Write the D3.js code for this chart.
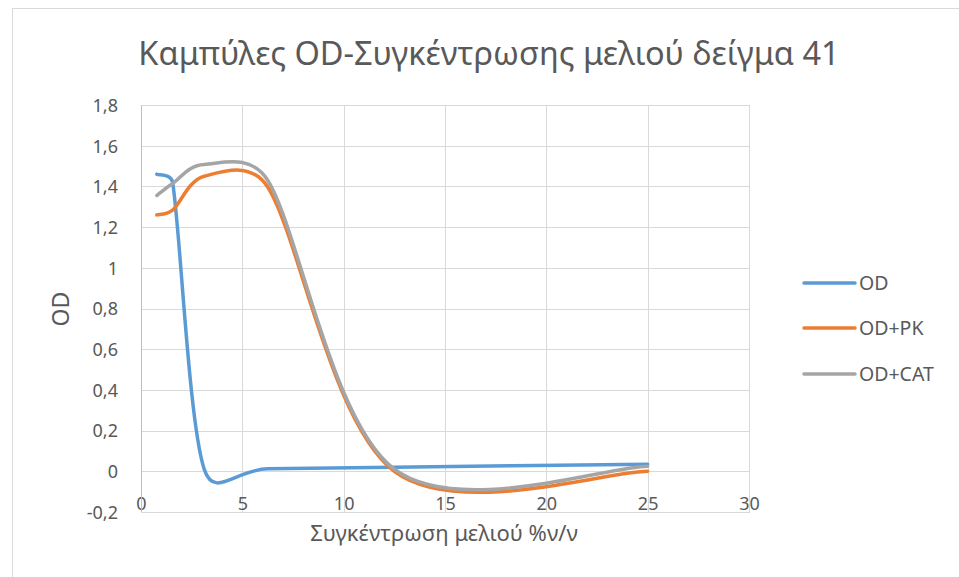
<!DOCTYPE html>
<html>
<head>
<meta charset="utf-8">
<script src="https://cdn.jsdelivr.net/npm/d3@7/dist/d3.min.js"></script>
<style>
  html, body { margin: 0; padding: 0; background: #fff; }
  svg { display: block; }
  text { font-family: "Noto Sans", "Open Sans", sans-serif; fill: #595959; }
</style>
</head>
<body>
<svg id="chart" width="959" height="577"></svg>
<script>
// Honey concentration (% v/v) of each dilution
const concentrations = [0.78, 1.56, 3.125, 6.25, 12.5, 25];
// Measured OD for each series
const seriesOD    = [1.46, 1.42, 0.008, 0.012, 0.02, 0.035];
const seriesODPK  = [1.26, 1.283, 1.45, 1.397, 0.0, 0.0];
const seriesODCAT = [1.355, 1.414, 1.508, 1.43, 0.01, 0.025];

const seriesNames  = ["OD", "OD+PK", "OD+CAT"];
const seriesColors = ["#5b9bd5", "#ed7d31", "#a5a5a5"];
const xTicks = [0, 5, 10, 15, 20, 25, 30];
const yTicks = [-0.2, 0, 0.2, 0.4, 0.6, 0.8, 1, 1.2, 1.4, 1.6, 1.8];

const titleText = "Καμπύλες OD-Συγκέντρωσης μελιού δείγμα 41";
const xTitle = "Συγκέντρωση μελιού %ν/ν";
const yTitle = "OD";

const W = 959, H = 577;
const plot = { left: 141, right: 749, top: 105, bottom: 512 };

const svg = d3.select("#chart");

// Smoothed line: cubic Bézier segments whose handles follow the neighbouring
// points, with handle length capped at half the segment length.
function SmoothCurve(context) { this._context = context; }
SmoothCurve.prototype = {
  areaStart() {}, areaEnd() {},
  lineStart() { this._pts = []; },
  point(x, y) { this._pts.push([+x, +y]); },
  lineEnd() {
    const p = this._pts, c = this._context, n = p.length;
    if (!n) return;
    const dist = (a, b) => Math.hypot(b[0] - a[0], b[1] - a[1]);
    c.moveTo(p[0][0], p[0][1]);
    for (let i = 0; i < n - 1; i++) {
      const p0 = p[Math.max(i - 1, 0)], p1 = p[i], p2 = p[i + 1], p3 = p[Math.min(i + 2, n - 1)];
      const d12 = dist(p1, p2), d02 = dist(p0, p2), d13 = dist(p1, p3);
      const f1 = (d02 === 0 || d02 / 6 < d12 / 2) ? 1 / 6 : d12 / (2 * d02);
      const f2 = (d13 === 0 || d13 / 6 < d12 / 2) ? 1 / 6 : d12 / (2 * d13);
      c.bezierCurveTo(
        p1[0] + (p2[0] - p0[0]) * f1, p1[1] + (p2[1] - p0[1]) * f1,
        p2[0] - (p3[0] - p1[0]) * f2, p2[1] - (p3[1] - p1[1]) * f2,
        p2[0], p2[1]);
    }
  }
};
const smoothCurve = ctx => new SmoothCurve(ctx);

// Outer chart frame
svg.append("rect")
  .attr("x", 12.5).attr("y", 8.5)
  .attr("width", W).attr("height", H)
  .attr("fill", "#fff").attr("stroke", "#d9d9d9").attr("stroke-width", 1);

const x = d3.scaleLinear().domain([0, 30]).range([plot.left, plot.right]);
const y = d3.scaleLinear().domain([-0.2, 1.8]).range([plot.bottom, plot.top]);

// Decimal comma and a plain hyphen for negatives
const fmt = v => String(+v.toFixed(1)).replace(".", ",");

// Gridlines
const grid = svg.append("g").attr("stroke", "#d9d9d9").attr("stroke-width", 1);
grid.selectAll("line.h").data(yTicks).join("line")
  .attr("class", "h")
  .attr("x1", plot.left).attr("x2", plot.right)
  .attr("y1", d => Math.round(y(d)) + 0.5).attr("y2", d => Math.round(y(d)) + 0.5);
grid.selectAll("line.v").data(xTicks.filter(d => d > 0)).join("line")
  .attr("class", "v")
  .attr("x1", d => Math.round(x(d)) + 0.5).attr("x2", d => Math.round(x(d)) + 0.5)
  .attr("y1", plot.top).attr("y2", plot.bottom);

// Y axis labels
const yAxis = d3.axisLeft(y).tickValues(yTicks).tickFormat(fmt).tickSize(0).tickPadding(23);
const gy = svg.append("g").attr("transform", `translate(${plot.left},0)`).call(yAxis);
gy.select(".domain").remove();
gy.selectAll("text").style("font-size", "18px").attr("fill", "#595959")
  .attr("font-family", null).attr("dy", "0.35em");

// X axis labels (sitting on the bottom edge of the plot)
const xAxis = d3.axisBottom(x).tickValues(xTicks).tickFormat(d3.format("d")).tickSize(0).tickPadding(0);
const gx = svg.append("g").attr("transform", `translate(0,${plot.bottom - 16})`).call(xAxis);
gx.select(".domain").remove();
gx.selectAll("text").style("font-size", "18px").attr("fill", "#595959")
  .attr("font-family", null).attr("dy", "0.35em").attr("y", 8);

// Axis lines
svg.append("line")
  .attr("x1", plot.left + 0.5).attr("x2", plot.left + 0.5)
  .attr("y1", plot.top).attr("y2", plot.bottom + 0.5)
  .attr("stroke", "#bfbfbf").attr("stroke-width", 1);
svg.append("line")
  .attr("x1", plot.left).attr("x2", plot.right + 1)
  .attr("y1", plot.bottom + 0.5).attr("y2", plot.bottom + 0.5)
  .attr("stroke", "#d9d9d9").attr("stroke-width", 1);

// Series lines
const allSeries = [seriesOD, seriesODPK, seriesODCAT];
const line = d3.line()
  .x((d, i) => x(concentrations[i]))
  .y(d => y(d))
  .curve(smoothCurve);

svg.append("g").selectAll("path").data(allSeries).join("path")
  .attr("d", d => line(d))
  .attr("fill", "none")
  .attr("stroke", (d, i) => seriesColors[i])
  .attr("stroke-width", 3.5)
  .attr("stroke-linecap", "round")
  .attr("stroke-linejoin", "round");

// Title
svg.append("text")
  .attr("x", 489).attr("y", 65)
  .attr("text-anchor", "middle")
  .style("font-size", "32.5px")
  .text(titleText);

// Axis titles
svg.append("text")
  .attr("x", 444).attr("y", 541)
  .attr("text-anchor", "middle")
  .style("font-size", "22px")
  .text(xTitle);

svg.append("text")
  .attr("transform", "translate(69,309) rotate(-90)")
  .attr("text-anchor", "middle")
  .style("font-size", "23px")
  .text(yTitle);

// Legend
const legendY = [283, 328, 374];
const legend = svg.append("g").selectAll("g").data(seriesNames).join("g")
  .attr("transform", (d, i) => `translate(0,${legendY[i]})`);
legend.append("line")
  .attr("x1", 804).attr("x2", 855).attr("y1", 0).attr("y2", 0)
  .attr("stroke", (d, i) => seriesColors[i])
  .attr("stroke-width", 3.5).attr("stroke-linecap", "round");
legend.append("text")
  .attr("x", 859).attr("y", 0).attr("dy", "0.35em")
  .style("font-size", "19.5px")
  .text(d => d);
</script>
</body>
</html>
